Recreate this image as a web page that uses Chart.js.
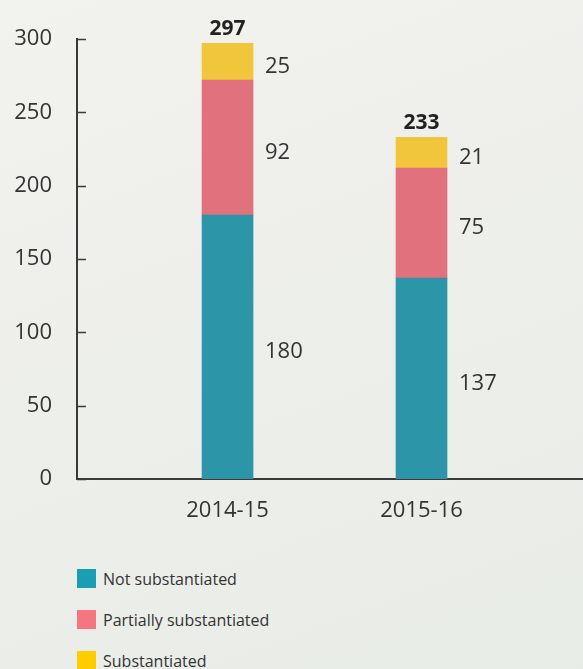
<!DOCTYPE html>
<html>
<head>
<meta charset="utf-8">
<script src="https://cdn.jsdelivr.net/npm/chart.js@4"></script>
<style>
  body {
    margin: 0;
    width: 583px;
    height: 669px;
    overflow: hidden;
    background: linear-gradient(160deg, #f2f2ef 0%, #eceeea 60%, #e8ece7 100%);
    font-family: "Open Sans", sans-serif;
  }
  #wrap { position: absolute; left: 0; top: 0; width: 583px; height: 545px; }
  #legend { position: absolute; left: 77px; top: 569px; }
  .item { display: flex; align-items: center; height: 19px; margin-bottom: 22px; font-size: 16px; color: #333; }
  .swatch { width: 19px; height: 19px; margin-right: 7px; }
</style>
</head>
<body>
<div id="wrap"><canvas id="chart"></canvas></div>
<div id="legend"></div>
<script>
// Complaints by outcome
const categories = ['2014-15', '2015-16'];
const notSubstantiated = [180, 137];
const partiallySubstantiated = [92, 75];
const substantiated = [25, 21];
const yTicks = [0, 50, 100, 150, 200, 250, 300];

const seriesNames = ['Not substantiated', 'Partially substantiated', 'Substantiated'];
const barColors = ['#2c95a7', '#e0717d', '#f2c63b'];
const legendColors = ['#1a9eb4', '#f4767e', '#ffcc00'];

const textColor = '#333333';
const axisColor = '#3a3a3a';

function points(values) {
    return values.map((v, i) => ({ x: i, y: v }));
}

// small tick marks drawn inside the plot, to the right of the y axis
const innerTicks = {
    id: 'innerTicks',
    afterDraw(chart) {
        const ctx = chart.ctx;
        const y = chart.scales.y;
        const left = chart.chartArea.left;
        ctx.save();
        ctx.strokeStyle = axisColor;
        ctx.lineWidth = 1.5;
        y.ticks.forEach(t => {
            const py = Math.round(y.getPixelForValue(t.value)) + 0.5;
            ctx.beginPath();
            ctx.moveTo(left, py);
            ctx.lineTo(left + 9, py);
            ctx.stroke();
        });
        ctx.restore();
    }
};

// segment values beside the bars and bold totals on top
const valueLabels = {
    id: 'valueLabels',
    afterDatasetsDraw(chart) {
        const ctx = chart.ctx;
        ctx.save();
        ctx.font = '22px "Open Sans"';
        ctx.fillStyle = textColor;
        ctx.textAlign = 'left';
        ctx.textBaseline = 'middle';
        chart.data.datasets.forEach((ds, di) => {
            chart.getDatasetMeta(di).data.forEach((bar, i) => {
                const p = bar.getProps(['x', 'y', 'base', 'width'], true);
                ctx.fillText(ds.data[i].y, p.x + p.width / 2 + 12, (p.y + p.base) / 2 + 5);
            });
        });

        ctx.font = 'bold 21px "Open Sans"';
        ctx.fillStyle = '#222222';
        ctx.textAlign = 'center';
        ctx.textBaseline = 'alphabetic';
        const last = chart.data.datasets.length - 1;
        chart.getDatasetMeta(last).data.forEach((bar, i) => {
            const total = notSubstantiated[i] + partiallySubstantiated[i] + substantiated[i];
            ctx.fillText(total, bar.x, bar.y - 8);
        });
        ctx.restore();
    }
};

const ctx = document.getElementById('chart').getContext('2d');
new Chart(ctx, {
    type: 'bar',
    data: {
        datasets: [
            { label: seriesNames[0], data: points(notSubstantiated), backgroundColor: barColors[0] },
            { label: seriesNames[1], data: points(partiallySubstantiated), backgroundColor: barColors[1] },
            { label: seriesNames[2], data: points(substantiated), backgroundColor: barColors[2] }
        ]
    },
    options: {
        responsive: true,
        maintainAspectRatio: false,
        animation: false,
        barThickness: 51,
        borderWidth: 0,
        layout: { padding: { top: 39, right: 0, left: 0, bottom: 0 } },
        plugins: {
            legend: { display: false },
            tooltip: { enabled: false }
        },
        scales: {
            x: {
                type: 'linear',
                stacked: true,
                offset: false,
                min: -0.776,
                max: 1.8325,
                afterBuildTicks: scale => { scale.ticks = categories.map((c, i) => ({ value: i })); },
                afterFit: scale => { scale.height = 66; },
                grid: { display: false, drawTicks: false, offset: false },
                border: { display: true, color: axisColor, width: 2 },
                ticks: {
                    autoSkip: false,
                    maxRotation: 0,
                    padding: 19,
                    color: textColor,
                    font: { family: 'Open Sans', size: 22 },
                    callback: v => categories[v]
                }
            },
            y: {
                stacked: true,
                min: 0,
                max: 300,
                afterBuildTicks: scale => { scale.ticks = yTicks.map(v => ({ value: v })); },
                afterFit: scale => { scale.width = 77; },
                grid: { display: false, drawTicks: false },
                border: { display: true, color: axisColor, width: 2 },
                ticks: {
                    padding: 25,
                    color: textColor,
                    font: { family: 'Open Sans', size: 22 }
                }
            }
        }
    },
    plugins: [innerTicks, valueLabels]
});

// legend, one series per row
const legend = document.getElementById('legend');
seriesNames.forEach((name, i) => {
    const item = document.createElement('div');
    item.className = 'item';
    item.innerHTML = '<span class="swatch" style="background:' + legendColors[i] + '"></span>' + name;
    legend.appendChild(item);
});
</script>
</body>
</html>
